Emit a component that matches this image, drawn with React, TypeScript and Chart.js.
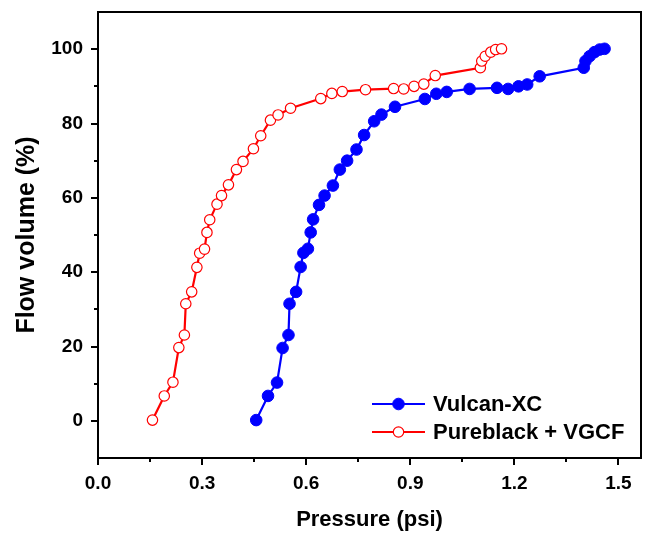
import React, { useEffect, useRef } from 'react';
import { Chart, registerables } from 'chart.js';

Chart.register(...registerables);

// ---- Data ----
const vulcanPressure = [
  0.456, 0.49, 0.516, 0.532, 0.549, 0.552, 0.571, 0.584, 0.592, 0.605, 0.613, 0.62,
  0.637, 0.653, 0.677, 0.697, 0.718, 0.745, 0.767, 0.796, 0.817, 0.856, 0.942, 0.975,
  1.005, 1.071, 1.15, 1.182, 1.212, 1.237, 1.273, 1.4, 1.405, 1.417, 1.431, 1.446, 1.46,
];
const vulcanFlow = [
  0.2, 6.7, 10.3, 19.6, 23.1, 31.5, 34.7, 41.4, 45.2, 46.3, 50.7, 54.2,
  58.1, 60.6, 63.3, 67.6, 70.0, 73.0, 76.9, 80.6, 82.4, 84.5, 86.6, 88.0,
  88.5, 89.3, 89.6, 89.3, 90.0, 90.5, 92.7, 95.0, 96.8, 98.1, 99.2, 99.9, 100.1,
];
const pureblackPressure = [
  0.157, 0.191, 0.216, 0.233, 0.249, 0.253, 0.27, 0.285, 0.293, 0.307, 0.314, 0.322,
  0.343, 0.356, 0.376, 0.399, 0.418, 0.448, 0.469, 0.497, 0.519, 0.555, 0.642, 0.674,
  0.704, 0.771, 0.852, 0.881, 0.911, 0.939, 0.972, 1.102, 1.106, 1.116, 1.132, 1.146, 1.163,
];
const pureblackFlow = [
  0.2, 6.7, 10.4, 19.7, 23.1, 31.5, 34.7, 41.3, 45.1, 46.2, 50.7, 54.1,
  58.3, 60.6, 63.5, 67.6, 69.8, 73.2, 76.7, 80.9, 82.3, 84.1, 86.7, 88.1,
  88.6, 89.1, 89.4, 89.3, 90.0, 90.6, 92.9, 95.0, 96.8, 98.1, 99.2, 99.9, 100.1,
];

const xTicks = [0, 0.3, 0.6, 0.9, 1.2, 1.5];
const xMinorTicks = [0.15, 0.45, 0.75, 1.05, 1.35];
const yTicks = [0, 20, 40, 60, 80, 100];
const yMinorTicks = [10, 30, 50, 70, 90];
const xMin = 0;
const xMax = 1.565;
const yMin = -10;
const yMax = 110;

const FONT = "'Liberation Sans', Arial, Helvetica, sans-serif";

const framePlugin = {
  id: 'frameAndLegend',
  afterDatasetsDraw(chart: any) {
    const { ctx, chartArea } = chart;
    const { left, right, top, bottom } = chartArea;
    ctx.save();
    ctx.strokeStyle = '#000';
    ctx.lineWidth = 2;
    ctx.strokeRect(left, top, right - left, bottom - top);

    // minor ticks
    const xs = chart.scales.x;
    const ys = chart.scales.y;
    ctx.beginPath();
    xMinorTicks.forEach((v) => {
      const px = Math.round(xs.getPixelForValue(v));
      ctx.moveTo(px, bottom);
      ctx.lineTo(px, bottom + 4);
    });
    yMinorTicks.forEach((v) => {
      const py = Math.round(ys.getPixelForValue(v));
      ctx.moveTo(left, py);
      ctx.lineTo(left - 4, py);
    });
    ctx.stroke();

    // legend
    const rows = [bottom - 54, bottom - 26];
    const lx0 = left + 274;
    const lx1 = left + 327;
    chart.data.datasets.forEach((ds: any, i: number) => {
      const y = rows[i];
      ctx.strokeStyle = ds.borderColor;
      ctx.lineWidth = ds.borderWidth;
      ctx.beginPath();
      ctx.moveTo(lx0, y);
      ctx.lineTo(lx1, y);
      ctx.stroke();
      ctx.beginPath();
      ctx.arc((lx0 + lx1) / 2, y, ds.pointRadius, 0, Math.PI * 2);
      ctx.fillStyle = ds.pointBackgroundColor;
      ctx.fill();
      ctx.lineWidth = ds.pointBorderWidth;
      ctx.strokeStyle = ds.pointBorderColor;
      ctx.stroke();
      ctx.fillStyle = '#000';
      ctx.font = `bold 22px ${FONT}`;
      ctx.textBaseline = 'middle';
      ctx.textAlign = 'left';
      ctx.fillText(ds.label, lx1 + 8, y + 1);
    });
    ctx.restore();
  },
};

export default function App() {
  const ref = useRef<HTMLCanvasElement>(null);

  useEffect(() => {
    const canvas = ref.current;
    if (!canvas) return;
    const chart = new Chart(canvas, {
      type: 'scatter',
      data: {
        datasets: [
          {
            label: 'Vulcan-XC',
            data: vulcanPressure.map((x, i) => ({ x, y: vulcanFlow[i] })),
            showLine: true,
            borderColor: '#0000ff',
            backgroundColor: '#0000ff',
            pointBackgroundColor: '#0000ff',
            pointBorderColor: '#0000ff',
            pointRadius: 5.8,
            pointBorderWidth: 1,
            borderWidth: 2.2,
            tension: 0,
          },
          {
            label: 'Pureblack + VGCF',
            data: pureblackPressure.map((x, i) => ({ x, y: pureblackFlow[i] })),
            showLine: true,
            borderColor: '#ff0000',
            backgroundColor: '#ffffff',
            pointBackgroundColor: '#ffffff',
            pointBorderColor: '#ff0000',
            pointRadius: 5.2,
            pointBorderWidth: 1.2,
            borderWidth: 2.2,
            tension: 0,
          },
        ],
      } as any,
      options: {
        responsive: false,
        animation: false,
        events: [],
        layout: { padding: { top: 12, right: 11, left: 0, bottom: 0 } },
        plugins: { legend: { display: false }, tooltip: { enabled: false } },
        scales: {
          x: {
            type: 'linear',
            min: xMin,
            max: xMax,
            afterBuildTicks: (s: any) => {
              s.ticks = xTicks.map((v) => ({ value: v }));
            },
            afterFit: (s: any) => {
              s.height = 75;
              s.paddingLeft = 0;
              s.paddingRight = 0;
            },
            ticks: {
              callback: (v: any) => Number(v).toFixed(1),
              color: '#000',
              font: { family: FONT, size: 19, weight: 'bold' },
              padding: 7,
              maxRotation: 0,
              autoSkip: false,
            },
            grid: { drawOnChartArea: false, drawTicks: true, tickLength: 7, color: '#000', lineWidth: 2 },
            border: { display: false },
            title: {
              display: true,
              text: 'Pressure (psi)',
              color: '#000',
              font: { family: FONT, size: 22, weight: 'bold' },
              padding: { top: 0, bottom: 0 },
            },
          },
          y: {
            type: 'linear',
            min: yMin,
            max: yMax,
            afterBuildTicks: (s: any) => {
              s.ticks = yTicks.map((v) => ({ value: v }));
            },
            afterFit: (s: any) => {
              s.width = 98;
              s.paddingTop = 0;
              s.paddingBottom = 0;
            },
            ticks: {
              callback: (v: any) => String(v),
              color: '#000',
              font: { family: FONT, size: 19, weight: 'bold' },
              padding: 8,
              autoSkip: false,
            },
            grid: { drawOnChartArea: false, drawTicks: true, tickLength: 7, color: '#000', lineWidth: 2 },
            border: { display: false },
            title: {
              display: true,
              text: 'Flow volume (%)',
              color: '#000',
              font: { family: FONT, size: 25, weight: 'bold' },
              padding: { top: 12, bottom: 0 },
            },
          },
        },
      } as any,
      plugins: [framePlugin],
    });
    return () => chart.destroy();
  }, []);

  return (
    <div style={{ position: 'absolute', left: 0, top: 0, width: 652, height: 533, background: '#fff' }}>
      <canvas ref={ref} width={652} height={533} style={{ width: 652, height: 533, display: 'block' }} />
    </div>
  );
}
